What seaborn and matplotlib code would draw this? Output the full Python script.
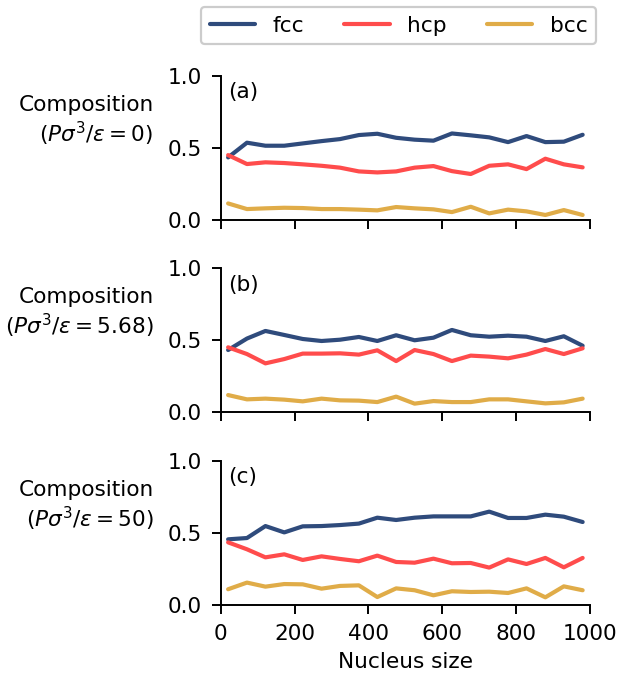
import numpy as np
import pandas as pd
import matplotlib
matplotlib.use("Agg")
import matplotlib.pyplot as plt
import seaborn as sns

# Nucleus size bins
nucleus_size = [20, 71, 121, 172, 222, 273, 323, 374, 424, 475,
                525, 576, 626, 677, 727, 778, 828, 879, 929, 980]

# Structure fractions at P*sigma^3/eps = 0
fcc_p0 = [0.434, 0.536, 0.515, 0.515, 0.531, 0.547, 0.561, 0.589, 0.598, 0.570,
          0.557, 0.550, 0.600, 0.587, 0.573, 0.540, 0.582, 0.540, 0.543, 0.591]
hcp_p0 = [0.450, 0.388, 0.400, 0.395, 0.386, 0.376, 0.363, 0.337, 0.330, 0.337,
          0.363, 0.374, 0.339, 0.319, 0.376, 0.386, 0.353, 0.425, 0.386, 0.365]
bcc_p0 = [0.115, 0.076, 0.081, 0.085, 0.083, 0.076, 0.076, 0.072, 0.067, 0.090,
          0.081, 0.074, 0.055, 0.092, 0.046, 0.072, 0.060, 0.035, 0.069, 0.035]

# Structure fractions at P*sigma^3/eps = 5.68
fcc_p568 = [0.430, 0.510, 0.563, 0.535, 0.507, 0.493, 0.502, 0.521, 0.493, 0.533,
            0.498, 0.516, 0.570, 0.533, 0.523, 0.530, 0.523, 0.493, 0.526, 0.460]
hcp_p568 = [0.449, 0.402, 0.337, 0.367, 0.405, 0.405, 0.407, 0.398, 0.428, 0.353,
            0.430, 0.402, 0.353, 0.391, 0.384, 0.372, 0.398, 0.437, 0.402, 0.442]
bcc_p568 = [0.116, 0.086, 0.091, 0.084, 0.072, 0.091, 0.079, 0.077, 0.067, 0.105,
            0.056, 0.074, 0.067, 0.067, 0.086, 0.086, 0.072, 0.058, 0.065, 0.091]

# Structure fractions at P*sigma^3/eps = 50
fcc_p50 = [0.455, 0.464, 0.547, 0.503, 0.545, 0.547, 0.554, 0.564, 0.605, 0.589,
           0.605, 0.614, 0.614, 0.614, 0.647, 0.603, 0.603, 0.626, 0.612, 0.575]
hcp_p50 = [0.434, 0.386, 0.330, 0.351, 0.312, 0.337, 0.319, 0.303, 0.342, 0.298,
           0.293, 0.321, 0.289, 0.291, 0.259, 0.316, 0.284, 0.326, 0.261, 0.326]
bcc_p50 = [0.109, 0.155, 0.127, 0.145, 0.143, 0.113, 0.132, 0.136, 0.055, 0.115,
           0.102, 0.067, 0.095, 0.090, 0.092, 0.083, 0.115, 0.053, 0.129, 0.102]

structures = ["fcc", "hcp", "bcc"]
panel_tags = ["(a)", "(b)", "(c)"]
pressure_labels = ["0", "5.68", "50"]
x_ticks = [0, 200, 400, 600, 800, 1000]
y_ticks = [0.0, 0.5, 1.0]

panels = [
    (fcc_p0, hcp_p0, bcc_p0),
    (fcc_p568, hcp_p568, bcc_p568),
    (fcc_p50, hcp_p50, bcc_p50),
]

palette = {"fcc": "#2f4b7c", "hcp": "#ff4c4c", "bcc": "#e0ac48"}

FS = 15.6
sns.set_style("ticks")
plt.rcParams.update({
    "font.family": ["DejaVu Sans"],
    "mathtext.fontset": "dejavusans",
    "font.size": FS,
    "text.color": "black",
    "axes.labelcolor": "black",
    "axes.edgecolor": "black",
    "xtick.color": "black",
    "ytick.color": "black",
    "axes.linewidth": 1.4,
    "xtick.major.width": 1.4,
    "ytick.major.width": 1.4,
    "xtick.major.size": 6.7,
    "ytick.major.size": 6.7,
    "xtick.major.pad": 7.0,
    "ytick.major.pad": 7.0,
    "xtick.labelsize": FS,
    "ytick.labelsize": FS,
    "axes.labelsize": FS,
})

fig = plt.figure(figsize=(6.19, 6.77), dpi=100)
axes_rects = [
    [0.3566, 0.6750, 0.5966, 0.2131],
    [0.3566, 0.3919, 0.5966, 0.2118],
    [0.3566, 0.1064, 0.5966, 0.2131],
]

for i, (rect, series) in enumerate(zip(axes_rects, panels)):
    ax = fig.add_axes(rect)
    df = pd.DataFrame({
        "Nucleus size": np.tile(nucleus_size, 3),
        "Composition": np.concatenate(series),
        "Structure": np.repeat(structures, len(nucleus_size)),
    })
    sns.lineplot(data=df, x="Nucleus size", y="Composition", hue="Structure",
                 hue_order=structures, palette=palette, linewidth=3,
                 ax=ax, legend=(i == 0))
    ax.set_xlim(0, 1000)
    ax.set_ylim(0, 1)
    ax.set_xticks(x_ticks)
    ax.set_yticks(y_ticks)
    ax.set_yticklabels([f"{t:.1f}" for t in y_ticks])
    sns.despine(ax=ax)
    ax.text(0.02, 0.955, panel_tags[i], transform=ax.transAxes,
            ha="left", va="top", fontsize=FS)
    ax.set_ylabel("Composition\n" + r"$(P\sigma^3/\varepsilon = " + pressure_labels[i] + r")$",
                  rotation=0, ha="right", va="bottom", multialignment="right",
                  labelpad=10)
    if i < 2:
        ax.set_xticklabels([])
        ax.set_xlabel("")
    else:
        ax.set_xlabel("Nucleus size", labelpad=6)
    if i == 0:
        handles, labels = ax.get_legend_handles_labels()
        ax.get_legend().remove()
        leg = fig.legend(handles, labels, loc="upper center", ncol=3,
                         bbox_to_anchor=(0.6438, 0.9897), borderaxespad=0,
                         frameon=True, fancybox=True, edgecolor="#cccccc",
                         framealpha=1, handlelength=2.1, columnspacing=1.85,
                         fontsize=FS)
        leg.get_frame().set_linewidth(1.6)

fig.savefig("out.png", dpi=100)
